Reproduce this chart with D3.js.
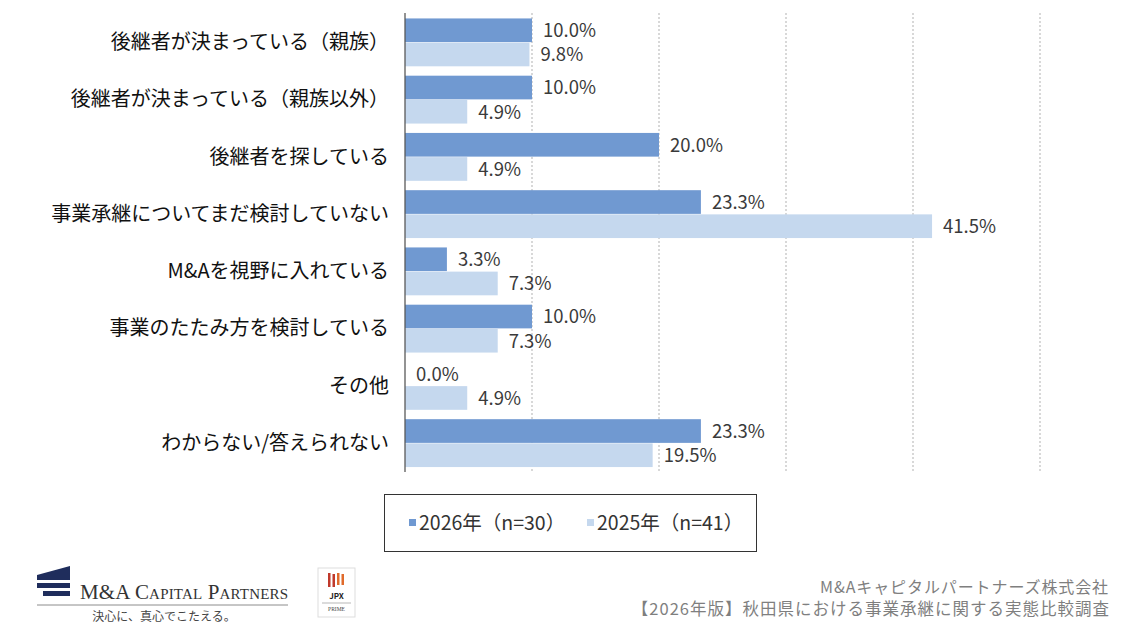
<!DOCTYPE html>
<html>
<head>
<meta charset="utf-8">
<title>事業承継 比較調査</title>
<script src="https://d3js.org/d3.v7.min.js"></script>
<style>
  body { margin: 0; background: #fff; }
  text { font-family: "Noto Sans CJK JP", "Noto Sans", sans-serif; }
</style>
</head>
<body>
<div id="chart"></div>
<script>
// data
var categories = [
  "後継者が決まっている（親族）",
  "後継者が決まっている（親族以外）",
  "後継者を探している",
  "事業承継についてまだ検討していない",
  "M&Aを視野に入れている",
  "事業のたたみ方を検討している",
  "その他",
  "わからない/答えられない"
];
var seriesNames = ["2026年（n=30）", "2025年（n=41）"];
var values2026 = [10.0, 10.0, 20.0, 23.3, 3.3, 10.0, 0.0, 23.3];
var values2025 = [9.8, 4.9, 4.9, 41.5, 7.3, 7.3, 4.9, 19.5];
var xTicks = [0, 10, 20, 30, 40, 50];

var colors = ["#7099d1", "#c5d8ee"];

var W = 1140, H = 641;
var svg = d3.select("#chart").append("svg")
  .attr("width", W).attr("height", H);

// scales
var x = d3.scaleLinear().domain([0, 50]).range([405, 1040]);
var y = d3.scaleBand().domain(categories).range([14, 472])
  .paddingInner(0.155).paddingOuter(0.0775);
var sub = d3.scaleBand().domain([0, 1]).range([0, y.bandwidth()]);

// gridlines (dotted)
svg.append("g").selectAll("line")
  .data(xTicks.slice(1))
  .enter().append("line")
    .attr("x1", function(d) { return x(d); })
    .attr("x2", function(d) { return x(d); })
    .attr("y1", 13).attr("y2", 472)
    .attr("stroke", "#bfbfbf")
    .attr("stroke-width", 1.2)
    .attr("stroke-dasharray", "2,2");

// bars
var rows = categories.map(function(c, i) {
  return { cat: c, vals: [values2026[i], values2025[i]] };
});

var groups = svg.append("g").selectAll("g")
  .data(rows)
  .enter().append("g")
    .attr("transform", function(d) { return "translate(0," + y(d.cat) + ")"; });

groups.selectAll("rect")
  .data(function(d) { return d.vals; })
  .enter().append("rect")
    .attr("x", x(0))
    .attr("y", function(d, i) { return sub(i); })
    .attr("width", function(d) { return x(d) - x(0); })
    .attr("height", sub.bandwidth() - 0.5)
    .attr("fill", function(d, i) { return colors[i]; });

groups.selectAll("text.val")
  .data(function(d) { return d.vals; })
  .enter().append("text")
    .attr("class", "val")
    .attr("x", function(d) { return x(d) + 11; })
    .attr("y", function(d, i) { return sub(i) + sub.bandwidth() / 2; })
    .attr("dy", "0.36em")
    .attr("font-size", 18.5)
    .attr("fill", "#3a3a3a")
    .text(function(d) { return d.toFixed(1) + "%"; });

// category axis
var yAxis = svg.append("g")
  .attr("transform", "translate(" + x(0) + ",0)")
  .call(d3.axisLeft(y).tickSize(0).tickPadding(16));
yAxis.select(".domain").attr("stroke", "#595959").attr("stroke-width", 1.3)
  .attr("d", "M0,13V472");
yAxis.selectAll("text")
  .attr("font-size", 20)
  .attr("fill", "#111")
  .style("font-family", "\"Noto Sans CJK JP\", sans-serif");

// legend
var legend = svg.append("g");
legend.append("rect")
  .attr("x", 384.5).attr("y", 494.5).attr("width", 372).attr("height", 57)
  .attr("fill", "none").attr("stroke", "#333").attr("stroke-width", 1);
var legX = [409, 587];
seriesNames.forEach(function(name, i) {
  legend.append("rect")
    .attr("x", legX[i]).attr("y", 519).attr("width", 7).attr("height", 7)
    .attr("fill", colors[i]);
  legend.append("text")
    .attr("x", legX[i] + 10).attr("y", 523)
    .attr("dy", "0.36em")
    .attr("font-size", 19.5)
    .attr("fill", "#333")
    .text(name);
});

// footer: company logo
var logo = svg.append("g");
logo.append("path").attr("d", "M37,575 L70,566 L70,580 L37,580 Z").attr("fill", "#1f2d5c");
logo.append("rect").attr("x", 37).attr("y", 583).attr("width", 33).attr("height", 5).attr("fill", "#1f2d5c");
logo.append("rect").attr("x", 43).attr("y", 591).attr("width", 27).attr("height", 5).attr("fill", "#1f2d5c");
logo.append("text")
  .attr("x", 80).attr("y", 599)
  .attr("font-size", 21)
  .attr("fill", "#333")
  .style("font-family", "\"Liberation Serif\", \"DejaVu Serif\", serif")
  .style("font-variant", "small-caps")
  .attr("textLength", 208)
  .text("M&A Capital Partners");
logo.append("line")
  .attr("x1", 37).attr("x2", 288).attr("y1", 605).attr("y2", 605)
  .attr("stroke", "#8c8c8c").attr("stroke-width", 1);
logo.append("text")
  .attr("x", 164).attr("y", 621)
  .attr("text-anchor", "middle")
  .attr("font-size", 12)
  .attr("fill", "#444")
  .style("font-family", "\"Noto Sans CJK JP\", serif")
  .text("決心に、真心でこたえる。");

// JPX badge
var jpx = svg.append("g");
jpx.append("rect").attr("x", 318).attr("y", 568).attr("width", 37).attr("height", 49)
  .attr("fill", "#fff").attr("stroke", "#ddd");
[0, 1, 2, 3].forEach(function(k) {
  jpx.append("rect")
    .attr("x", 328 + k * 4.5).attr("y", 573 + (k % 2)).attr("width", 2.5).attr("height", 14 - k)
    .attr("fill", k < 2 ? "#c0392b" : "#e06a2b");
});
jpx.append("text").attr("x", 336.5).attr("y", 599).attr("text-anchor", "middle")
  .attr("font-size", 8).attr("font-weight", "bold").attr("fill", "#222").text("JPX");
jpx.append("line").attr("x1", 322).attr("x2", 351).attr("y1", 603).attr("y2", 603)
  .attr("stroke", "#888").attr("stroke-width", 0.6);
jpx.append("text").attr("x", 336.5).attr("y", 611).attr("text-anchor", "middle")
  .attr("font-size", 5.5).attr("fill", "#444")
  .style("font-family", "\"Liberation Serif\", serif").text("PRIME");

// footer: source text
svg.append("text")
  .attr("x", 1109).attr("y", 593)
  .attr("text-anchor", "end")
  .attr("font-size", 16)
  .attr("letter-spacing", 0.9)
  .attr("fill", "#7f7f7f")
  .text("M&Aキャピタルパートナーズ株式会社");
svg.append("text")
  .attr("x", 1110).attr("y", 615)
  .attr("text-anchor", "end")
  .attr("font-size", 16.5)
  .attr("letter-spacing", 1)
  .attr("fill", "#7f7f7f")
  .text("【2026年版】秋田県における事業承継に関する実態比較調査");
</script>
</body>
</html>
